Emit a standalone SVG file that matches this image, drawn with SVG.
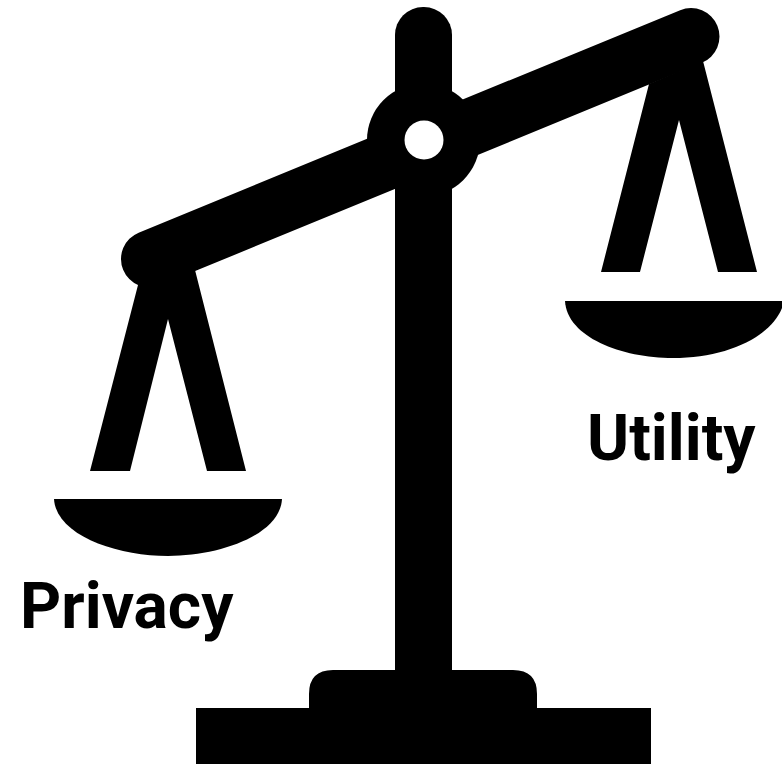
<svg xmlns="http://www.w3.org/2000/svg" width="782" height="764" viewBox="0 0 782 764">
<style>.l{font-family:Roboto,"Liberation Sans",sans-serif;font-weight:700;font-size:64px;fill:#000}</style>
<rect width="782" height="764" fill="#fff"/>
<g id="scale">
<rect x="395" y="7" width="57" height="680" rx="28" fill="#000"/>
<rect x="395" y="100" width="57" height="600" fill="#000"/>
<path d="M149.500 259L691 36.500" stroke="#000" stroke-width="57" stroke-linecap="round" fill="none"/>
<circle cx="423.500" cy="140" r="56.500" fill="#000"/>
<circle cx="424" cy="140" r="19.500" fill="#fff"/>
<path d="M196 764V708H309V694Q309 670 333 670H513Q537 670 537 694V708H651V764Z" fill="#000"/>
<path d="M90 471L138 285L195 270L246 471L207 471L168 319L130 471Z" fill="#000"/>
<path d="M54 499H282C280 535 220 556 168 556C116 556 56 535 54 499Z" fill="#000"/>
<path d="M601 272L649 84L703 61L757 272L718 272L679 120L640 272Z" fill="#000"/>
<path d="M565 301H782V308C770 338 725 358 673 358C621 358 567 337 565 301Z" fill="#000"/>
</g>
<text class="l" x="20" y="628">Privacy</text>
<text class="l" x="587" y="460">Utility</text>
</svg>
